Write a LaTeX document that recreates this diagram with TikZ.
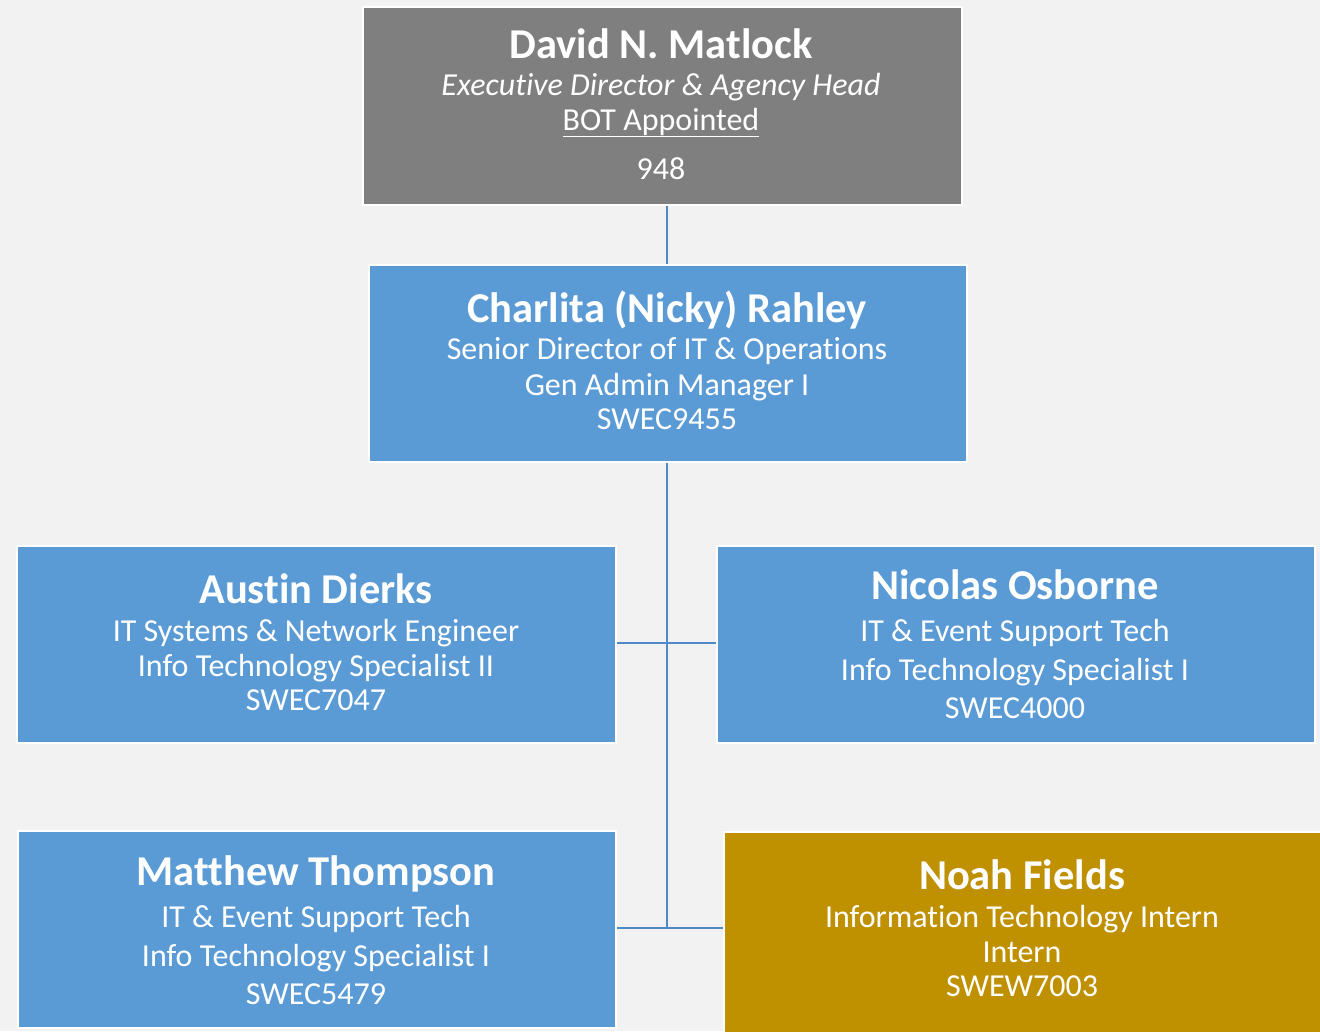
\documentclass[tikz,border=0pt]{standalone}
\usepackage{fontspec}
\setmainfont{Carlito}[Ligatures={NoCommon}]
\definecolor{bg}{HTML}{F2F2F2}
\definecolor{boxblue}{HTML}{5B9BD5}
\definecolor{boxgray}{HTML}{7F7F7F}
\definecolor{boxgold}{HTML}{BF9000}
\definecolor{linkblue}{HTML}{4F89C6}
\tikzset{
  card/.style={draw=white, line width=2pt, anchor=north west, inner sep=0pt},
  nametext/.style={text=white, anchor=base, inner sep=0pt, font=\fontsize{42.5}{46}\selectfont\bfseries},
  subtext/.style={text=white, anchor=base, inner sep=0pt, font=\fontsize{32}{35}\selectfont},
  link/.style={draw=linkblue, line width=2.5pt}
}
\begin{document}
\begin{tikzpicture}[x=1pt,y=-1pt]
\fill[bg] (0,0) rectangle (1320,1031);
\useasboundingbox (0,0) rectangle (1320,1031);
% boxes
\node[card, fill=boxgray, minimum width=599pt, minimum height=198pt] (david) at (362,6) {};
\node[card, fill=boxblue, minimum width=598pt, minimum height=197pt] (charlita) at (368,264) {};
\node[card, fill=boxblue, minimum width=599pt, minimum height=197pt] (austin) at (16,545) {};
\node[card, fill=boxblue, minimum width=598pt, minimum height=197pt] (nicolas) at (716,545) {};
\node[card, fill=boxblue, minimum width=598pt, minimum height=197pt] (matthew) at (17,830) {};
\node[card, fill=boxgold, minimum width=600pt, minimum height=202pt] (noah) at (723,831) {};
% junction coordinates
\coordinate (j1) at (667,643);
\coordinate (j2) at (667,928);
% connectors
\draw[link] (david.south -| j1) -- (charlita.north -| j1);
\draw[link] (charlita.south -| j1) -- (j2);
\draw[link] (austin.east |- j1) -- (nicolas.west |- j1);
\draw[link] (matthew.east |- j2) -- (noah.west |- j2);
% David
\node[nametext] (d1) at (661,58) {David N. Matlock};
\node[subtext] (d2) at (661,95) {\itshape Executive Director \& Agency Head};
\node[subtext] (d3) at (661,130) {\underline{BOT Appointed}};
\node[subtext] (d4) at (661,179) {948};
% Charlita
\node[nametext] (c1) at (667,322) {Charlita (Nicky) Rahley};
\node[subtext] (c2) at (667,359) {Senior Director of IT \& Operations};
\node[subtext] (c3) at (667,395) {Gen Admin Manager I};
\node[subtext] (c4) at (667,429) {SWEC9455};
% Austin
\node[nametext] (a1) at (316,603) {Austin Dierks};
\node[subtext] (a2) at (316,641) {IT Systems \& Network Engineer};
\node[subtext] (a3) at (316,676) {Info Technology Specialist II};
\node[subtext] (a4) at (316,710) {SWEC7047};
% Nicolas
\node[nametext] (n1) at (1015,599) {Nicolas Osborne};
\node[subtext] (n2) at (1015,641) {IT \& Event Support Tech};
\node[subtext] (n3) at (1015,680) {Info Technology Specialist I};
\node[subtext] (n4) at (1015,718) {SWEC4000};
% Matthew
\node[nametext] (m1) at (316,885) {Matthew Thompson};
\node[subtext] (m2) at (316,927) {IT \& Event Support Tech};
\node[subtext] (m3) at (316,966) {Info Technology Specialist I};
\node[subtext] (m4) at (316,1004) {SWEC5479};
% Noah
\node[nametext] (h1) at (1022,889) {Noah Fields};
\node[subtext] (h2) at (1022,927) {Information Technology Intern};
\node[subtext] (h3) at (1022,962) {Intern};
\node[subtext] (h4) at (1022,996) {SWEW7003};
\end{tikzpicture}
\end{document}
